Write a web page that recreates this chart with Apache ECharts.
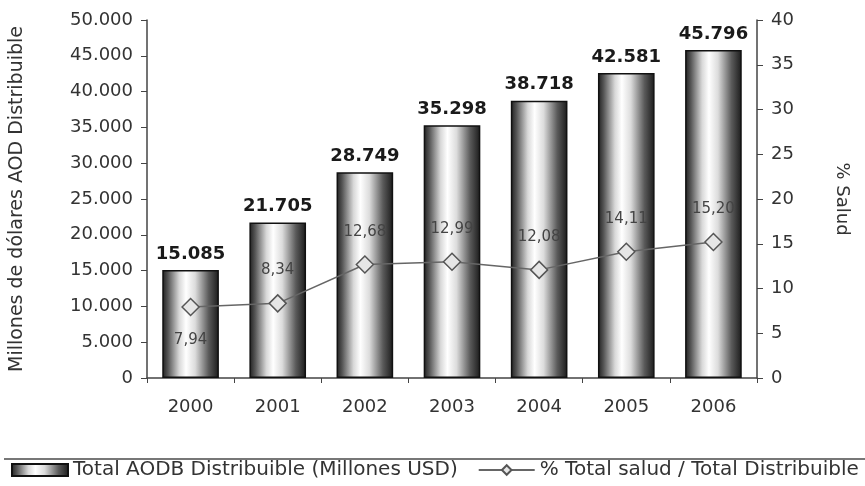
<!DOCTYPE html>
<html><head><meta charset="utf-8">
<script src="https://cdn.jsdelivr.net/npm/echarts@6/dist/echarts.min.js"></script>
<style>html,body{margin:0;padding:0;background:#fff}#c{width:865px;height:486px}</style>
</head><body><div id="c"></div>
<script>
const years = ['2000','2001','2002','2003','2004','2005','2006'];
const aodTotal = [15085, 21705, 28749, 35298, 38718, 42581, 45796];
const saludPct = [7.94, 8.34, 12.68, 12.99, 12.08, 14.11, 15.20];
const saludLabelPos = ['bottom','top','top','top','top','top','top'];

const fmtThousands = v => String(v).replace(/\B(?=(\d{3})+(?!\d))/g, '.');
const fmtDec = v => v.toFixed(2).replace('.', ',');
const FONT = 'DejaVu Sans';

const barGrad = new echarts.graphic.LinearGradient(0,0,1,0,[
  {offset:0,color:'#1e1e1e'},
  {offset:0.1,color:'#555555'},
  {offset:0.3,color:'#d8d8d8'},
  {offset:0.42,color:'#ffffff'},
  {offset:0.58,color:'#dcdcdc'},
  {offset:0.82,color:'#5a5a5a'},
  {offset:1,color:'#1a1a1a'}
]);

const chart = echarts.init(document.getElementById('c'));
chart.setOption({
  animation:false,
  textStyle:{fontFamily:FONT},
  grid:{left:145,right:108,top:20,bottom:108},
  legend:{
    bottom:1,left:6,itemGap:20,itemWidth:56,itemHeight:12,
    textStyle:{fontFamily:FONT,fontSize:20,color:'#333'},
    data:[{name:'Total AODB Distribuible (Millones USD)',icon:'rect'},{name:'% Total salud / Total Distribuible'}]
  },
  graphic:[{type:'line',shape:{x1:4,y1:459,x2:865,y2:459},style:{stroke:'#777',lineWidth:2}}],
  xAxis:{
    type:'category',data:years,
    axisLine:{lineStyle:{color:'#444',width:1.5}},
    axisTick:{show:true,length:5,lineStyle:{color:'#444'}},
    axisLabel:{fontSize:18,color:'#333',margin:20}
  },
  yAxis:[{
    type:'value',min:0,max:50000,interval:5000,
    name:'Millones de dólares AOD Distribuible',nameLocation:'middle',nameGap:120,nameRotate:90,
    nameTextStyle:{fontSize:19,color:'#333'},
    axisLine:{show:true,lineStyle:{color:'#444',width:1.5}},
    axisTick:{show:true,length:6,lineStyle:{color:'#444'}},
    splitLine:{show:false},
    axisLabel:{fontSize:18,color:'#333',margin:14,formatter:v=>fmtThousands(v)}
  },{
    type:'value',min:0,max:40,interval:5,position:'right',
    name:'% Salud',nameLocation:'middle',nameGap:76,nameRotate:-90,
    nameTextStyle:{fontSize:18,color:'#333'},
    axisLine:{show:true,lineStyle:{color:'#444',width:1.5}},
    axisTick:{show:true,length:6,lineStyle:{color:'#444'}},
    splitLine:{show:false},
    axisLabel:{fontSize:18,color:'#333',margin:14}
  }],
  series:[{
    name:'Total AODB Distribuible (Millones USD)',type:'bar',data:aodTotal,barWidth:'65%',
    itemStyle:{color:barGrad,borderColor:'#111',borderWidth:1.5},
    label:{show:true,position:'top',distance:7,fontSize:18,fontWeight:'bold',color:'#1a1a1a',formatter:p=>fmtThousands(p.value)}
  },{
    name:'% Total salud / Total Distribuible',type:'line',yAxisIndex:1,
    data:saludPct.map((v,i)=>({value:v,label:{position:saludLabelPos[i]}})),
    symbol:'diamond',symbolSize:17,
    lineStyle:{color:'#666',width:1.5},
    itemStyle:{color:'#e6e6e6',borderColor:'#555',borderWidth:1.5},
    label:{show:true,distance:16,fontSize:15,color:'#444',formatter:p=>fmtDec(p.value)}
  }]
});
</script></body></html>
